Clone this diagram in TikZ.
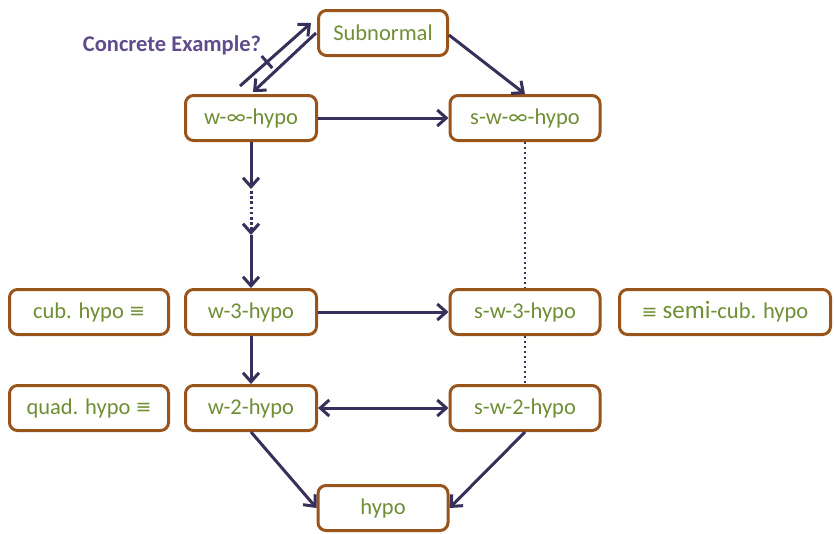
\documentclass[tikz,border=0pt]{standalone}
\usepackage{fontspec}
\setmainfont{Carlito}
\newfontfamily\symfont{DejaVu Sans}
\usetikzlibrary{arrows.meta,calc}
\definecolor{boxbrown}{RGB}{152,84,26}
\definecolor{labelgreen}{RGB}{112,142,52}
\definecolor{arrowink}{RGB}{56,48,90}
\definecolor{notepurple}{RGB}{95,76,140}
\newcommand{\eqv}{{\symfont\fontsize{19}{19}\selectfont\raisebox{0.5pt}{≡}}}
\begin{document}
\begin{tikzpicture}[x=1pt,y=-1pt,
  >={Straight Barb[length=9pt,width=16pt,line width=3pt]},
  classbox/.style={draw=boxbrown, line width=3pt, rounded corners=8pt, fill=white,
    text=labelgreen, font=\fontsize{22.5}{22.5}\selectfont, minimum height=45pt,
    inner sep=0pt, align=center},
  link/.style={draw=arrowink, line width=3pt, ->},
  dualink/.style={draw=arrowink, line width=3pt, <->},
  dotlink/.style={draw=arrowink, line width=2.2pt, dash pattern=on 2.2pt off 2.8pt}
]
\useasboundingbox (0,0) rectangle (834,533);

% classes
\node[classbox, minimum width=129pt] (sub)   at (383,33)  {Subnormal};
\node[classbox, minimum width=131pt] (winf)  at (251,118) {w-∞-hypo};
\node[classbox, minimum width=150pt] (swinf) at (525,118) {s-w-∞-hypo};
\node[classbox, minimum width=159pt] (cub)   at (89,312)  {cub. hypo \eqv};
\node[classbox, minimum width=131pt] (w3)    at (251,312) {w-3-hypo};
\node[classbox, minimum width=150pt] (sw3)   at (525,312) {s-w-3-hypo};
\node[classbox, minimum width=211pt] (semi)  at (725,312) {\eqv\ {\fontsize{25}{25}\selectfont semi}-cub. hypo};
\node[classbox, minimum width=159pt] (quad)  at (89,408)  {quad. hypo \eqv};
\node[classbox, minimum width=131pt] (w2)    at (251,408) {w-2-hypo};
\node[classbox, minimum width=150pt] (sw2)   at (525,408) {s-w-2-hypo};
\node[classbox, minimum width=130pt] (hypo)  at (383,508) {hypo};

% open question
\node[text=notepurple, font=\bfseries\fontsize{22.5}{22.5}\selectfont, inner sep=0pt] (note) at (172,45) {Concrete Example?};

% two-way link between Subnormal and w-inf-hypo
\coordinate (upA) at (240,86);
\coordinate (upB) at (311,23);
\coordinate (dnA) at (316,33);
\coordinate (dnB) at (253,92);
\draw[link] (upA) -- (upB) coordinate[pos=0.38] (tick);
\draw[draw=arrowink, line width=3pt] ($(tick)!8pt!90:(upB)$) -- ($(tick)!8pt!-90:(upB)$);
\draw[link] (dnA) -- (dnB);

% top row
\draw[link] (sub.east) ++(0,2) -- (swinf.north);
\draw[link] (winf) -- (swinf);

% left column chain
\coordinate (c1) at (251,189);
\coordinate (c2) at (251,235);
\draw[link] (winf.south) -- (c1);
\draw[dotlink, line width=3pt, dash pattern=on 2.6pt off 2.6pt, ->, shorten <=2pt] (c1) -- (c2);
\draw[link] (c2) -- (w3.north);
\draw[link] (w3) -- (w2);

% right column
\draw[dotlink] (swinf.south) -- (sw3.north);
\draw[dotlink] (sw3.south) -- (sw2.north);

% horizontal links
\draw[link] (w3) -- (sw3);
\draw[dualink] (w2) -- (sw2);

% down to hypo
\draw[link] (w2.south) -- (hypo.west);
\draw[link] (sw2.south) -- (hypo.east);
\end{tikzpicture}
\end{document}
